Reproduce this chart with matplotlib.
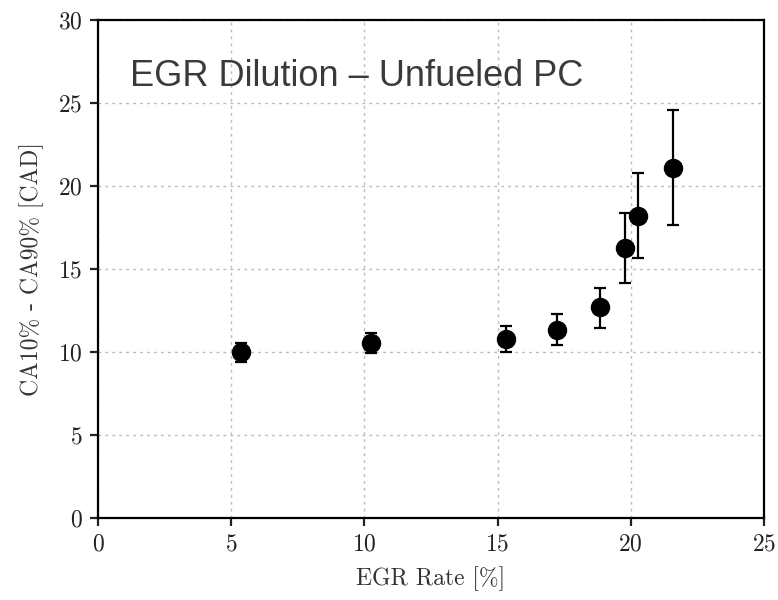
import matplotlib
matplotlib.use("Agg")
import matplotlib.pyplot as plt

egr_rate = [5.36, 10.24, 15.32, 17.23, 18.84, 19.78, 20.26, 21.58]
burn_duration = [9.96, 10.52, 10.76, 11.33, 12.67, 16.25, 18.19, 21.08]
err_low = [9.36, 9.92, 9.98, 10.42, 11.46, 14.14, 15.64, 17.61]
err_high = [10.52, 11.13, 11.58, 12.29, 13.87, 18.39, 20.78, 24.58]

x_ticks = [0, 5, 10, 15, 20, 25]
y_ticks = [0, 5, 10, 15, 20, 25, 30]

plt.rcParams['font.family'] = 'serif'
plt.rcParams['font.serif'] = ['cmr10', 'DejaVu Serif']
plt.rcParams['axes.formatter.use_mathtext'] = True

fig = plt.figure(figsize=(7.78, 6.0), dpi=100)
ax = fig.add_axes([0.126, 0.137, 0.856, 0.830])

yerr = [[b - l for b, l in zip(burn_duration, err_low)],
        [h - b for b, h in zip(burn_duration, err_high)]]
ax.errorbar(egr_rate, burn_duration, yerr=yerr, fmt='o', color='black',
            markersize=13, elinewidth=1.6, capsize=4.5, capthick=1.6, zorder=3)

ax.set_xlim(0, 25)
ax.set_ylim(0, 30)
ax.set_xticks(x_ticks)
ax.set_yticks(y_ticks)
ax.grid(True, linestyle=(0, (2, 3)), color='#bbbbbb', linewidth=1.0)
ax.set_axisbelow(True)
for s in ax.spines.values():
    s.set_linewidth(1.6)
ax.tick_params(direction='out', length=6, width=1.6, labelsize=17, colors='#222222', pad=5)
ax.set_xlabel('EGR Rate [%]', fontsize=17, color='#333333', labelpad=8)
ax.set_ylabel('CA10% - CA90% [CAD]', fontsize=17, color='#333333', labelpad=10)

ax.text(0.048, 0.887, 'EGR Dilution – Unfueled PC', transform=ax.transAxes,
        fontsize=26, family='Liberation Sans', color='#3a3a3a', va='center', ha='left')

fig.savefig('out.png', dpi=100)
